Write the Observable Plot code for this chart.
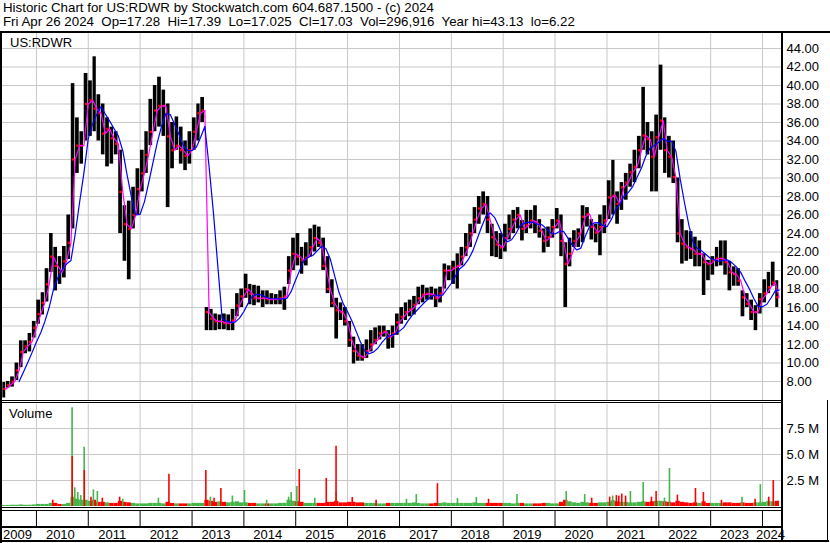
<!DOCTYPE html>
<html>
<head>
<meta charset="utf-8">
<script src="https://cdn.jsdelivr.net/npm/d3@7"></script>
<script src="https://cdn.jsdelivr.net/npm/@observablehq/plot@0.6"></script>
<style>
html,body{margin:0;padding:0;background:#fff;}
#chart{position:relative;width:830px;height:543px;overflow:hidden;background:#fff;font-family:"Liberation Sans",Arial,sans-serif;color:#000;}
.pane{position:absolute;left:0;}
.pane svg{display:block;}
.ln{position:absolute;background:#000;}
.txt{position:absolute;white-space:pre;font-family:"Liberation Sans",Arial,sans-serif;color:#000;}
</style>
</head>
<body>
<div id="chart"></div>
<script>
// ---------- text ----------
const headerLine1 = "Historic Chart for US:RDWR by Stockwatch.com 604.687.1500 - (c) 2024";
const headerLine2 = "Fri Apr 26 2024  Op=17.28  Hi=17.39  Lo=17.025  Cl=17.03  Vol=296,916  Year hi=43.13  lo=6.22";
const symbolLabel = "US:RDWR";
const volumeLabel = "Volume";

// ---------- axes / ticks ----------
const yearLabels = ["2009","2010","2011","2012","2013","2014","2015","2016","2017","2018","2019","2020","2021","2022","2023","2024"];
const priceTicks = [8,10,12,14,16,18,20,22,24,26,28,30,32,34,36,38,40,42,44];
const volTicks = [2.5,5,7.5];
const volTickLabels = ["2.5 M","5.0 M","7.5 M"];

// ---------- monthly price data (May 2009 .. Apr 2024) ----------
const firstMonth = "2009-05-01";
const lastTradeDay = "2024-04-27";
const hi = [
  7.9, 8.0, 8.5, 10.0, 12.4, 12.4, 13.2, 14.5,
  16.8, 17.6, 20.2, 24.0, 22.5, 21.5, 22.6, 26.0, 40.2, 36.5, 35.0, 41.3,
  40.5, 43.1, 39.0, 38.0, 36.5, 35.5, 35.0, 33.0, 27.0, 27.5, 29.0, 31.0,
  33.0, 35.0, 38.5, 40.0, 40.9, 39.5, 38.0, 36.0, 36.6, 35.5, 34.0, 35.0,
  36.5, 38.0, 38.7, 16.0, 15.8, 15.3, 15.2, 15.3, 15.2, 15.8, 17.5, 18.0,
  19.6, 18.5, 18.4, 18.3, 17.8, 17.8, 17.5, 17.4, 17.8, 18.2, 21.5, 23.5,
  24.0, 22.5, 23.0, 24.5, 24.9, 24.7, 23.5, 21.5, 19.0, 17.0, 16.5, 16.0,
  14.5, 12.8, 12.0, 12.0, 12.5, 13.5, 13.8, 14.0, 14.0, 13.5, 14.0, 15.3,
  16.0, 16.5, 16.8, 17.2, 18.2, 18.4, 18.1, 18.2, 18.0, 18.2, 20.7, 20.5,
  21.0, 21.8, 22.5, 24.0, 25.0, 26.8, 28.0, 28.5, 28.0, 25.0, 24.2, 24.0,
  25.0, 26.0, 26.5, 26.8, 25.4, 26.5, 26.5, 27.0, 25.5, 24.5, 24.7, 25.5,
  26.7, 26.0, 23.0, 23.5, 24.3, 24.5, 27.0, 26.8, 25.5, 25.0, 26.0, 27.0,
  29.7, 31.9, 28.5, 29.5, 30.5, 31.5, 33.0, 34.5, 39.8, 36.0, 35.0, 36.8,
  42.2, 36.5, 34.5, 34.0, 30.0, 25.5, 24.3, 24.2, 23.6, 23.2, 21.8, 21.1,
  21.5, 22.5, 23.2, 23.2, 21.0, 20.4, 20.2, 17.8, 17.5, 16.8, 16.2, 17.5,
  19.0, 19.8, 20.9, 18.9
];
const lo = [
  6.22, 7.3, 7.4, 8.1, 9.5, 11.0, 11.2, 12.7,
  14.2, 15.2, 16.6, 19.8, 17.8, 18.5, 19.2, 21.2, 24.5, 30.5, 31.5, 34.0,
  34.5, 35.0, 34.0, 32.5, 31.2, 31.5, 32.5, 24.0, 21.0, 19.0, 24.5, 26.0,
  28.5, 30.5, 33.5, 35.0, 35.5, 34.5, 26.8, 31.0, 33.0, 31.5, 30.8, 31.5,
  33.0, 34.0, 36.0, 13.5, 13.5, 13.5, 13.6, 13.6, 13.5, 13.5, 15.0, 16.0,
  17.0, 16.3, 16.2, 16.5, 16.0, 16.3, 16.3, 16.3, 16.3, 15.7, 18.5, 20.0,
  20.5, 19.6, 20.5, 21.5, 22.0, 22.5, 20.0, 17.5, 16.0, 12.6, 14.6, 14.0,
  11.7, 9.9, 10.2, 10.2, 10.5, 11.2, 12.0, 12.5, 12.8, 11.5, 11.6, 13.0,
  14.2, 14.6, 15.0, 15.2, 16.3, 16.5, 16.8, 16.8, 16.0, 16.5, 18.0, 18.9,
  18.5, 18.0, 20.5, 21.5, 22.5, 24.0, 25.0, 26.0, 24.0, 21.5, 21.4, 21.2,
  22.0, 23.3, 24.0, 24.5, 23.2, 24.0, 24.5, 24.0, 23.5, 21.9, 22.5, 23.5,
  24.5, 21.5, 16.0, 20.4, 22.5, 22.5, 23.0, 24.7, 23.3, 23.0, 21.6, 24.0,
  25.5, 26.0, 25.0, 26.5, 27.6, 29.0, 29.5, 31.0, 33.0, 32.5, 28.5, 28.5,
  33.0, 30.5, 30.0, 29.4, 23.0, 20.7, 21.0, 21.2, 20.4, 20.4, 17.3, 18.9,
  19.5, 20.4, 20.5, 19.5, 17.8, 18.3, 18.3, 15.0, 16.0, 14.6, 13.5, 15.3,
  16.5, 17.5, 18.3, 16.0
];
// month-end level of the short (20-day) moving average
const close = [
  7.2, 7.6, 8.0, 9.2, 11.2, 11.8, 12.3, 13.8,
  15.3, 16.5, 18.5, 21.5, 20.5, 19.8, 21.0, 23.0, 32.0, 33.5, 33.5, 38.0,
  38.4, 37.5, 37.0, 34.8, 35.3, 34.3, 33.7, 28.5, 25.0, 24.5, 26.0, 28.8,
  30.5, 32.5, 35.0, 37.3, 37.8, 37.8, 34.5, 33.0, 33.5, 33.0, 32.4, 33.0,
  35.0, 37.0, 37.3, 15.5, 14.8, 14.5, 14.5, 14.3, 14.3, 14.6, 16.2, 17.2,
  18.0, 17.5, 17.0, 17.0, 17.0, 16.9, 16.9, 16.9, 17.0, 17.2, 20.0, 21.8,
  21.5, 21.1, 21.4, 22.5, 23.5, 23.0, 20.5, 18.0, 16.5, 15.7, 15.5, 14.5,
  12.5, 11.3, 10.8, 10.6, 11.3, 12.0, 12.5, 13.2, 13.4, 12.8, 13.2, 14.4,
  15.0, 15.5, 15.8, 16.3, 17.0, 17.4, 17.5, 17.4, 17.0, 17.5, 20.0, 20.0,
  20.3, 20.5, 21.5, 22.5, 24.0, 25.5, 26.7, 27.2, 25.5, 23.6, 22.8, 22.5,
  23.5, 24.5, 25.5, 26.0, 24.5, 24.9, 25.4, 25.2, 24.3, 23.2, 23.6, 24.7,
  25.4, 23.2, 20.7, 21.8, 23.2, 24.0, 25.8, 26.1, 24.7, 24.1, 24.7, 25.4,
  27.9, 28.1, 27.2, 29.0, 29.5, 30.6, 31.2, 33.0, 34.6, 34.2, 32.3, 34.4,
  36.2, 33.0, 32.3, 30.1, 24.0, 22.9, 22.5, 22.3, 21.8, 21.8, 20.9, 20.7,
  21.1, 21.3, 21.3, 20.9, 19.8, 19.6, 18.9, 17.1, 16.4, 15.5, 15.5, 16.9,
  17.5, 18.2, 18.7, 17.1
];
// typical daily volume per month (millions)
const volBase = [
  0.1, 0.1, 0.12, 0.12, 0.15, 0.12, 0.12, 0.15,
  0.2, 0.2, 0.2, 0.3, 0.3, 0.2, 0.2, 0.3, 0.9, 0.7, 0.6, 0.6,
  0.5, 0.6, 0.4, 0.4, 0.35, 0.3, 0.3, 0.5, 0.4, 0.35, 0.3, 0.25,
  0.25, 0.25, 0.3, 0.3, 0.3, 0.25, 0.4, 0.3, 0.25, 0.25, 0.25, 0.25,
  0.3, 0.3, 0.3, 0.6, 0.5, 0.4, 0.45, 0.4, 0.35, 0.4, 0.45, 0.35,
  0.35, 0.3, 0.3, 0.25, 0.25, 0.25, 0.25, 0.25, 0.3, 0.3, 0.6, 0.5,
  0.45, 0.4, 0.3, 0.3, 0.3, 0.3, 0.3, 0.4, 0.4, 0.5, 0.35, 0.35,
  0.4, 0.4, 0.35, 0.35, 0.3, 0.3, 0.3, 0.25, 0.25, 0.3, 0.3, 0.3,
  0.3, 0.3, 0.3, 0.35, 0.3, 0.25, 0.25, 0.25, 0.3, 0.3, 0.35, 0.3,
  0.3, 0.3, 0.3, 0.3, 0.3, 0.35, 0.3, 0.3, 0.3, 0.3, 0.3, 0.3,
  0.3, 0.3, 0.25, 0.3, 0.3, 0.25, 0.25, 0.25, 0.25, 0.3, 0.3, 0.25,
  0.25, 0.4, 0.6, 0.45, 0.35, 0.3, 0.4, 0.35, 0.3, 0.3, 0.35, 0.35,
  0.4, 0.55, 0.45, 0.4, 0.4, 0.35, 0.35, 0.4, 0.45, 0.4, 0.45, 0.5,
  0.5, 0.45, 0.4, 0.35, 0.5, 0.4, 0.35, 0.3, 0.35, 0.3, 0.45, 0.3,
  0.3, 0.3, 0.3, 0.35, 0.35, 0.3, 0.3, 0.35, 0.3, 0.3, 0.35, 0.35,
  0.4, 0.5, 0.45, 0.5
];
// individual high-volume days (millions); 1 = up day (green), 0 = down day (red)
const spikeDates = ["2010-04-26","2010-09-09","2010-09-10","2010-09-28","2010-10-19","2010-11-09","2010-12-03","2010-12-04","2011-01-20","2011-02-06","2011-03-06","2011-04-10","2011-08-10","2011-09-01","2012-05-09","2012-07-22","2013-04-08","2013-05-10","2013-06-05","2013-07-23","2013-10-12","2014-01-05","2014-06-10","2014-11-12","2014-11-30","2015-01-09","2015-01-26","2015-05-15","2015-08-04","2015-10-12","2015-10-13","2016-02-03","2016-07-20","2017-02-19","2017-04-29","2017-09-25","2018-02-13","2018-06-26","2018-09-20","2019-04-08","2020-03-20","2020-07-28","2020-09-15","2021-01-20","2021-02-10","2021-03-08","2021-03-25","2021-04-15","2021-05-12","2021-06-15","2021-09-13","2021-11-10","2021-12-13","2022-02-10","2022-03-17","2022-05-12","2022-09-16","2022-11-11","2023-03-18","2023-08-10","2023-11-10","2023-12-17","2024-02-14","2024-03-17","2024-04-20"];
const spikeVols = [0.6,9.5,4.8,1.8,1.35,1.05,5.7,3.46,0.9,1.6,1.44,0.8,0.9,0.7,0.8,3.1,3.46,0.9,0.8,1.73,1.0,1.54,0.6,0.9,1.35,1.92,3.56,0.8,2.7,5.8,1.35,0.87,0.6,0.7,1.15,2.2,0.77,0.87,0.7,1.15,1.44,1.15,0.8,0.9,1.0,1.05,1.0,1.2,1.0,1.44,2.3,0.9,1.44,0.8,3.65,1.1,1.73,1.35,0.6,0.9,0.7,2.1,0.9,2.5,0.5];
const spikeUp = [0,1,0,1,1,1,1,0,0,1,1,0,0,1,1,0,0,1,0,0,1,1,1,1,1,1,0,1,0,0,1,0,0,1,1,0,1,1,0,1,1,1,0,0,1,0,0,0,0,1,1,0,0,1,1,0,0,0,0,1,0,1,0,0,0];

// ---------- build tables ----------
const GREEN = "#44b649", RED = "#ff0000", GRID = "#c8c8c8";
const FONT = '"Liberation Sans", Arial, sans-serif';
const xDomain = [new Date("2009-05-07"), new Date("2024-05-21")];
const starts = d3.utcMonth.range(new Date(firstMonth), new Date("2024-05-01"));
const bars = starts.map((d, i) => {
  const x1 = i === 0 ? xDomain[0] : d;
  const x2 = i < starts.length - 1 ? starts[i + 1] : new Date(lastTradeDay);
  return {x1, x2, mid: new Date((+x1 + +x2) / 2), hi: hi[i], lo: lo[i], close: close[i],
          vol: volBase[i], up: i === 0 ? true : close[i] >= close[i - 1]};
});
const spikes = spikeDates.map((d, i) => ({date: new Date(d), vol: spikeVols[i], up: spikeUp[i] === 1}))
  .sort((a, b) => b.vol - a.vol);
const yearStarts = yearLabels.slice(1).map(y => new Date(y + "-01-01"));
const bounds = [xDomain[0], ...yearStarts, xDomain[1]];
const labelMid = yearLabels.map((y, i) => new Date((+bounds[i] + +bounds[i + 1]) / 2));

// ---------- layout helpers ----------
const chart = document.getElementById("chart");
function pane(top, svg) {
  const d = document.createElement("div");
  d.className = "pane"; d.style.top = top + "px";
  d.appendChild(svg); chart.appendChild(d);
}
function line(left, top, w, h) {
  const d = document.createElement("div");
  d.className = "ln";
  Object.assign(d.style, {left: left + "px", top: top + "px", width: w + "px", height: h + "px"});
  chart.appendChild(d);
}
function text(str, left, top, size) {
  const d = document.createElement("div");
  d.className = "txt"; d.textContent = str;
  Object.assign(d.style, {left: left + "px", top: top + "px", fontSize: size + "px", lineHeight: size + "px"});
  chart.appendChild(d);
}
const baseStyle = {fontFamily: FONT, fontSize: "13px", color: "#000", background: "none", overflow: "visible"};
const xOpt = {type: "utc", domain: xDomain, axis: null};

// ---------- price panel ----------
pane(33, Plot.plot({
  width: 830, height: 367, marginTop: 0, marginBottom: 0, marginLeft: 2, marginRight: 48,
  style: baseStyle,
  x: xOpt,
  y: {domain: [5.95, 45.62], axis: null},
  marks: [
    Plot.ruleY(priceTicks, {stroke: GRID, strokeOpacity: 1}),
    Plot.ruleX(yearStarts, {stroke: GRID, strokeOpacity: 1}),
    Plot.rect(bars, {x1: "x1", x2: "x2", y1: "lo", y2: "hi", fill: "#000", insetLeft: 0.35, insetRight: 0.35}),
    Plot.dot(bars, {x: "mid", y: "close", r: 1.3, fill: RED, stroke: "none", symbol: "square"}),
    Plot.line(bars, {x: "x2", y: "close", stroke: "#ff00ff", strokeWidth: 1.2}),
    Plot.line(bars, Plot.windowY({k: 4, anchor: "end", strict: true}, {x: "x2", y: "close", stroke: "#0000ff", strokeWidth: 1.2})),
    Plot.text(priceTicks, {x: () => xDomain[1], y: d => d, text: d => d.toFixed(2), textAnchor: "start", dx: 4, fill: "#000", fontSize: 13, fontFamily: FONT})
  ]
}));

// ---------- volume panel ----------
pane(404, Plot.plot({
  width: 830, height: 102, marginTop: 0, marginBottom: 0, marginLeft: 2, marginRight: 48,
  style: baseStyle,
  x: xOpt,
  y: {domain: [0, 102 / 26 * 2.5], axis: null},
  marks: [
    Plot.ruleY(volTicks, {stroke: GRID, strokeOpacity: 1}),
    Plot.ruleX(yearStarts, {stroke: GRID, strokeOpacity: 1}),
    Plot.rect(bars.filter(d => d.up), {x1: "x1", x2: "x2", y1: 0, y2: "vol", fill: GREEN, inset: 0}),
    Plot.rect(bars.filter(d => !d.up), {x1: "x1", x2: "x2", y1: 0, y2: "vol", fill: RED, inset: 0}),
    Plot.ruleX(spikes.filter(d => d.up), {x: "date", y1: 0, y2: "vol", stroke: GREEN, strokeWidth: 1.6}),
    Plot.ruleX(spikes.filter(d => !d.up), {x: "date", y1: 0, y2: "vol", stroke: RED, strokeWidth: 1.6}),
    Plot.text(volTicks, {x: () => xDomain[1], y: d => d, text: (d, i) => volTickLabels[i], textAnchor: "start", dx: 4, fill: "#000", fontSize: 13, fontFamily: FONT})
  ]
}));

// ---------- year separator strip ----------
pane(511, Plot.plot({
  width: 830, height: 15, marginTop: 0, marginBottom: 0, marginLeft: 2, marginRight: 48,
  style: baseStyle, x: xOpt,
  marks: [Plot.ruleX(yearStarts, {stroke: "#000", strokeOpacity: 1})]
}));

// ---------- year labels ----------
pane(528, Plot.plot({
  width: 830, height: 13, marginTop: 0, marginBottom: 0, marginLeft: 2, marginRight: 48,
  style: baseStyle, x: xOpt,
  marks: [Plot.text(yearLabels, {x: (d, i) => labelMid[i], text: d => d, dx: -2, fill: "#000", fontSize: 13, fontFamily: FONT})]
}));

// ---------- frame lines ----------
line(0, 31, 830, 2);      // header rule
line(0, 31, 2, 512);      // left border
line(781, 31, 2, 511);    // right axis border
line(0, 400, 782, 1); line(0, 402, 782, 1);   // price bottom double
line(0, 507, 782, 1); line(0, 510, 782, 1);   // volume bottom double
line(0, 526, 782, 2);     // label row top
line(0, 540, 829, 2);     // bottom
line(827, 400, 1, 142);   // right edge

// ---------- texts ----------
text(headerLine1, 3, 1.3, 13.3);
text(headerLine2, 3, 14.9, 13.3);
text(symbolLabel, 10, 35.7, 13);
text(volumeLabel, 9, 407.3, 13);
</script>
</body>
</html>
